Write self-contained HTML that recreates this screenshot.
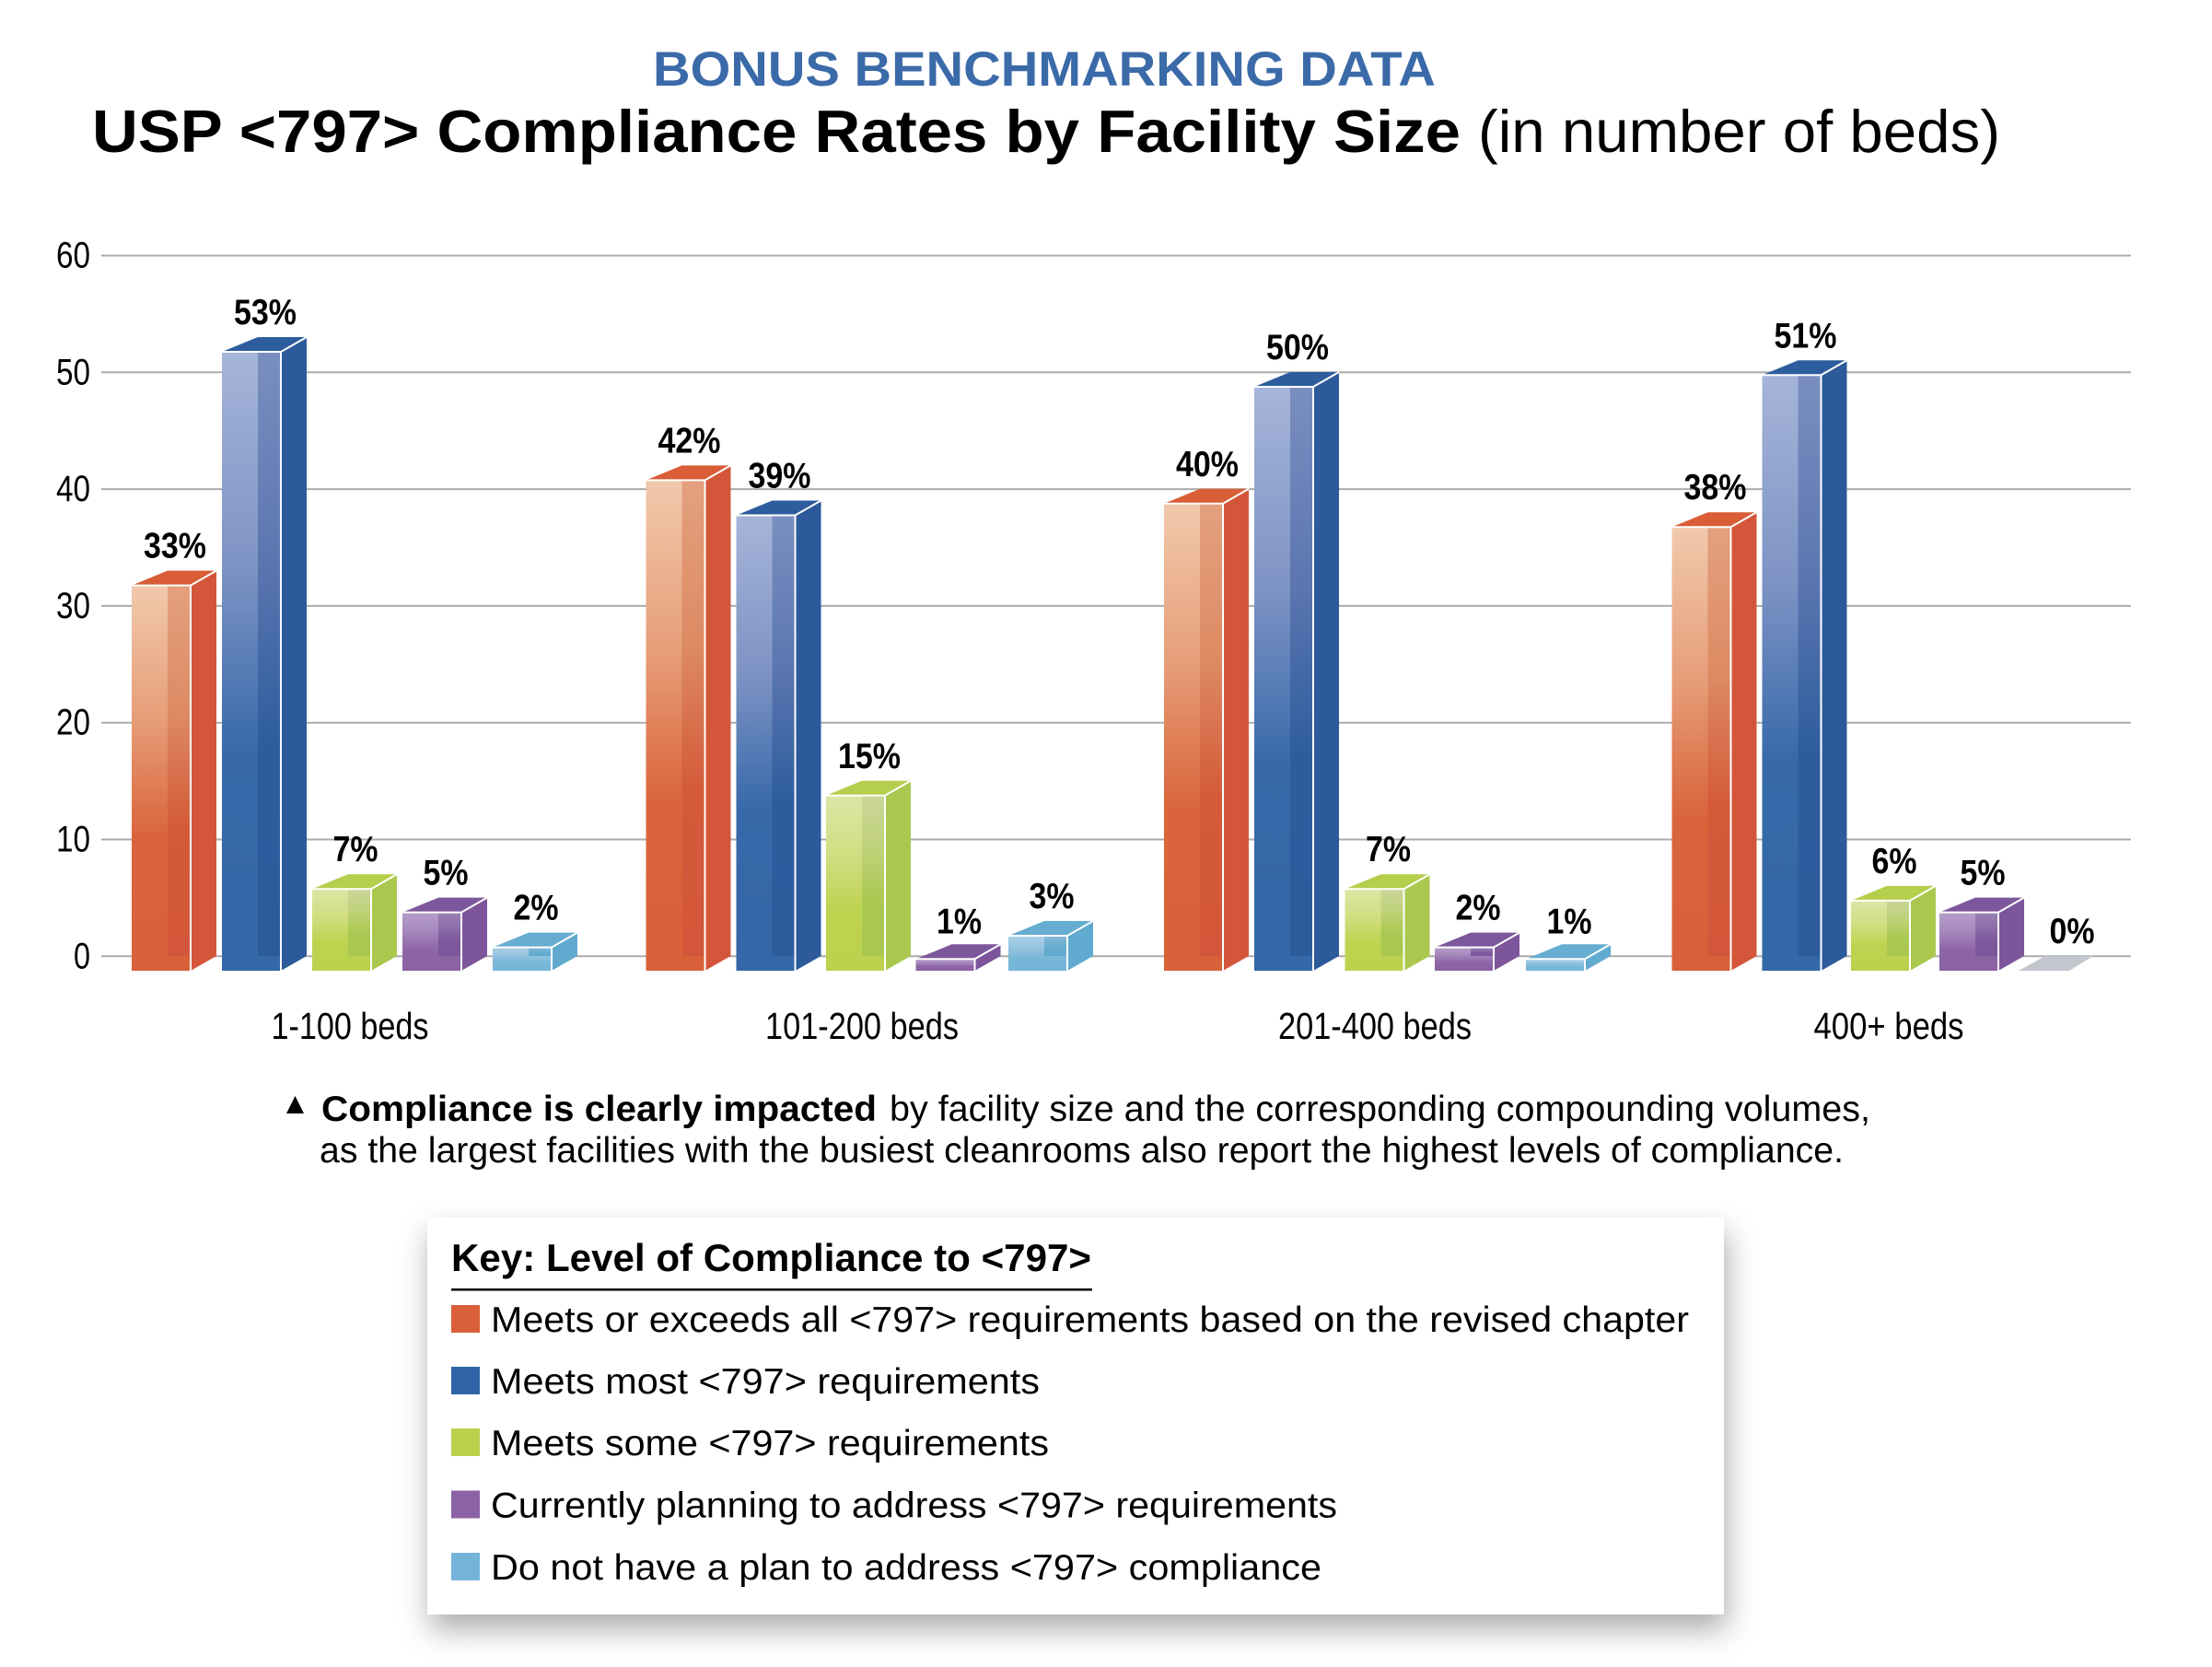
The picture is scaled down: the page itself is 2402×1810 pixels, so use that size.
<!DOCTYPE html>
<html><head><meta charset="utf-8"><style>html,body{margin:0;padding:0;background:#fff}svg{display:block}</style></head>
<body>
<svg width="2402" height="1810" viewBox="0 0 2402 1810" xmlns="http://www.w3.org/2000/svg" font-family="'Liberation Sans', Arial, sans-serif">
<defs>
<linearGradient id="oL" x1="0" y1="0" x2="0" y2="1"><stop offset="0" stop-color="#f1c9ad"/><stop offset="0.35" stop-color="#e69d77"/><stop offset="0.65" stop-color="#da653c"/><stop offset="1" stop-color="#d9613a"/></linearGradient>
<linearGradient id="oO" x1="0" y1="0" x2="0" y2="1"><stop offset="0" stop-color="#e4a07e"/><stop offset="0.35" stop-color="#dd8a62"/><stop offset="0.65" stop-color="#d45a3a"/><stop offset="1" stop-color="#d4563a"/></linearGradient>
<linearGradient id="bL" x1="0" y1="0" x2="0" y2="1"><stop offset="0" stop-color="#a6b5d9"/><stop offset="0.35" stop-color="#7d93c4"/><stop offset="0.65" stop-color="#3769a9"/><stop offset="1" stop-color="#3468a8"/></linearGradient>
<linearGradient id="bO" x1="0" y1="0" x2="0" y2="1"><stop offset="0" stop-color="#7a8fc0"/><stop offset="0.35" stop-color="#5b76b0"/><stop offset="0.65" stop-color="#2e5d9e"/><stop offset="1" stop-color="#2d5c9d"/></linearGradient>
<linearGradient id="gL" x1="0" y1="0" x2="0" y2="1"><stop offset="0" stop-color="#dde6a6"/><stop offset="0.35" stop-color="#d0de80"/><stop offset="0.65" stop-color="#bed350"/><stop offset="1" stop-color="#bcd14e"/></linearGradient>
<linearGradient id="gO" x1="0" y1="0" x2="0" y2="1"><stop offset="0" stop-color="#cad698"/><stop offset="0.35" stop-color="#bfd178"/><stop offset="0.65" stop-color="#abc952"/><stop offset="1" stop-color="#a9c850"/></linearGradient>
<linearGradient id="pL" x1="0" y1="0" x2="0" y2="1"><stop offset="0" stop-color="#b6a0ca"/><stop offset="0.35" stop-color="#a386bb"/><stop offset="0.65" stop-color="#8d64a5"/><stop offset="1" stop-color="#8b62a3"/></linearGradient>
<linearGradient id="pO" x1="0" y1="0" x2="0" y2="1"><stop offset="0" stop-color="#9a80b5"/><stop offset="0.35" stop-color="#8d6ea9"/><stop offset="0.65" stop-color="#7e589d"/><stop offset="1" stop-color="#7c569c"/></linearGradient>
<linearGradient id="cL" x1="0" y1="0" x2="0" y2="1"><stop offset="0" stop-color="#acd1e6"/><stop offset="0.35" stop-color="#94c3df"/><stop offset="0.65" stop-color="#78b7d8"/><stop offset="1" stop-color="#75b5d7"/></linearGradient>
<linearGradient id="cO" x1="0" y1="0" x2="0" y2="1"><stop offset="0" stop-color="#87bcd8"/><stop offset="0.35" stop-color="#72b1d3"/><stop offset="0.65" stop-color="#63abd0"/><stop offset="1" stop-color="#62aad0"/></linearGradient>
<filter id="sh" x="-10%" y="-20%" width="120%" height="150%"><feDropShadow dx="3" dy="16" stdDeviation="16" flood-color="#000" flood-opacity="0.33"/></filter>
<style>
.pl{font-weight:bold;font-size:39px;text-anchor:middle;fill:#000}
.yl{font-size:40px;text-anchor:end;fill:#000}
.cl{font-size:41px;text-anchor:middle;fill:#000}
.ed{stroke:#fff;stroke-width:2;fill:none}
</style>
</defs>
<rect width="2402" height="1810" fill="#fff"/>

<!-- Titles -->
<text x="709" y="93" font-size="53" font-weight="bold" fill="#3b6aa9" textLength="850" lengthAdjust="spacingAndGlyphs">BONUS BENCHMARKING DATA</text>
<text x="100" y="165" font-size="65" font-weight="bold" fill="#000" textLength="1486" lengthAdjust="spacingAndGlyphs">USP &lt;797&gt; Compliance Rates by Facility Size</text>
<text x="1605" y="165" font-size="65" fill="#000" textLength="567" lengthAdjust="spacingAndGlyphs">(in number of beds)</text>

<!-- Gridlines -->
<g stroke="#ababab" stroke-width="2">
<line x1="110" y1="277.5" x2="2314" y2="277.5"/>
<line x1="110" y1="404.3" x2="2314" y2="404.3"/>
<line x1="110" y1="531.1" x2="2314" y2="531.1"/>
<line x1="110" y1="657.9" x2="2314" y2="657.9"/>
<line x1="110" y1="784.7" x2="2314" y2="784.7"/>
<line x1="110" y1="911.5" x2="2314" y2="911.5"/>
<line x1="110" y1="1038.3" x2="2314" y2="1038.3"/>
</g>
<text class="yl" x="98" y="290.5" textLength="37" lengthAdjust="spacingAndGlyphs">60</text>
<text class="yl" x="98" y="417.3" textLength="37" lengthAdjust="spacingAndGlyphs">50</text>
<text class="yl" x="98" y="544.1" textLength="37" lengthAdjust="spacingAndGlyphs">40</text>
<text class="yl" x="98" y="670.9" textLength="37" lengthAdjust="spacingAndGlyphs">30</text>
<text class="yl" x="98" y="797.7" textLength="37" lengthAdjust="spacingAndGlyphs">20</text>
<text class="yl" x="98" y="924.5" textLength="37" lengthAdjust="spacingAndGlyphs">10</text>
<text class="yl" x="98" y="1051.3" textLength="18" lengthAdjust="spacingAndGlyphs">0</text>

<!-- ===== Group 1 ===== -->
<g transform="translate(143,0)">
<rect y="635.6" width="64" height="418.4" fill="url(#oL)"/><rect x="39" y="635.6" width="25" height="402.4" fill="url(#oO)"/>
<polygon points="64,635.6 92,619.6 92,1038 64,1054" fill="#d4563a"/><polygon points="0,635.6 39,619.6 92,619.6 64,635.6" fill="#d95d37"/>
<path class="ed" d="M0,635.6H64L92,619.6M64,635.6V1054"/>
<text class="pl" x="47" y="605.6" textLength="68" lengthAdjust="spacingAndGlyphs">33%</text></g>
<g transform="translate(241,0)">
<rect y="382" width="64" height="672" fill="url(#bL)"/><rect x="39" y="382" width="25" height="656" fill="url(#bO)"/>
<polygon points="64,382 92,366 92,1038 64,1054" fill="#2c5a9a"/><polygon points="0,382 39,366 92,366 64,382" fill="#2e5d9e"/>
<path class="ed" d="M0,382H64L92,366M64,382V1054"/>
<text class="pl" x="47" y="352" textLength="68" lengthAdjust="spacingAndGlyphs">53%</text></g>
<g transform="translate(339,0)">
<rect y="965.2" width="64" height="88.8" fill="url(#gL)"/><rect x="39" y="965.2" width="25" height="72.8" fill="url(#gO)"/>
<polygon points="64,965.2 92,949.2 92,1038 64,1054" fill="#aac84e"/><polygon points="0,965.2 39,949.2 92,949.2 64,965.2" fill="#b5ce4c"/>
<path class="ed" d="M0,965.2H64L92,949.2M64,965.2V1054"/>
<text class="pl" x="47" y="935.2" textLength="49" lengthAdjust="spacingAndGlyphs">7%</text></g>
<g transform="translate(437,0)">
<rect y="990.6" width="64" height="63.4" fill="url(#pL)"/><rect x="39" y="990.6" width="25" height="47.4" fill="url(#pO)"/>
<polygon points="64,990.6 92,974.6 92,1038 64,1054" fill="#7c559b"/><polygon points="0,990.6 39,974.6 92,974.6 64,990.6" fill="#7d579c"/>
<path class="ed" d="M0,990.6H64L92,974.6M64,990.6V1054"/>
<text class="pl" x="47" y="960.6" textLength="49" lengthAdjust="spacingAndGlyphs">5%</text></g>
<g transform="translate(535,0)">
<rect y="1028.6" width="64" height="25.4" fill="url(#cL)"/><rect x="39" y="1028.6" width="25" height="9.4" fill="url(#cO)"/>
<polygon points="64,1028.6 92,1012.6 92,1038 64,1054" fill="#61aacf"/><polygon points="0,1028.6 39,1012.6 92,1012.6 64,1028.6" fill="#66add1"/>
<path class="ed" d="M0,1028.6H64L92,1012.6M64,1028.6V1054"/>
<text class="pl" x="47" y="998.6" textLength="49" lengthAdjust="spacingAndGlyphs">2%</text></g>

<!-- ===== Group 2 ===== -->
<g transform="translate(701.5,0)">
<rect y="521.4" width="64" height="532.6" fill="url(#oL)"/><rect x="39" y="521.4" width="25" height="516.6" fill="url(#oO)"/>
<polygon points="64,521.4 92,505.4 92,1038 64,1054" fill="#d4563a"/><polygon points="0,521.4 39,505.4 92,505.4 64,521.4" fill="#d95d37"/>
<path class="ed" d="M0,521.4H64L92,505.4M64,521.4V1054"/>
<text class="pl" x="47" y="491.4" textLength="68" lengthAdjust="spacingAndGlyphs">42%</text></g>
<g transform="translate(799.5,0)">
<rect y="559.5" width="64" height="494.5" fill="url(#bL)"/><rect x="39" y="559.5" width="25" height="478.5" fill="url(#bO)"/>
<polygon points="64,559.5 92,543.5 92,1038 64,1054" fill="#2c5a9a"/><polygon points="0,559.5 39,543.5 92,543.5 64,559.5" fill="#2e5d9e"/>
<path class="ed" d="M0,559.5H64L92,543.5M64,559.5V1054"/>
<text class="pl" x="47" y="529.5" textLength="68" lengthAdjust="spacingAndGlyphs">39%</text></g>
<g transform="translate(897,0)">
<rect y="863.8" width="64" height="190.2" fill="url(#gL)"/><rect x="39" y="863.8" width="25" height="174.2" fill="url(#gO)"/>
<polygon points="64,863.8 92,847.8 92,1038 64,1054" fill="#aac84e"/><polygon points="0,863.8 39,847.8 92,847.8 64,863.8" fill="#b5ce4c"/>
<path class="ed" d="M0,863.8H64L92,847.8M64,863.8V1054"/>
<text class="pl" x="47" y="833.8" textLength="68" lengthAdjust="spacingAndGlyphs">15%</text></g>
<g transform="translate(994.5,0)">
<rect y="1041.3" width="64" height="12.7" fill="url(#pL)"/>
<polygon points="64,1041.3 92,1025.3 92,1038 64,1054" fill="#7c559b"/><polygon points="0,1041.3 39,1025.3 92,1025.3 64,1041.3" fill="#7d579c"/>
<path class="ed" d="M0,1041.3H64L92,1025.3M64,1041.3V1054"/>
<text class="pl" x="47" y="1013.3" textLength="49" lengthAdjust="spacingAndGlyphs">1%</text></g>
<g transform="translate(1095,0)">
<rect y="1016" width="64" height="38" fill="url(#cL)"/><rect x="39" y="1016" width="25" height="22" fill="url(#cO)"/>
<polygon points="64,1016 92,1000 92,1038 64,1054" fill="#61aacf"/><polygon points="0,1016 39,1000 92,1000 64,1016" fill="#66add1"/>
<path class="ed" d="M0,1016H64L92,1000M64,1016V1054"/>
<text class="pl" x="47" y="986" textLength="49" lengthAdjust="spacingAndGlyphs">3%</text></g>

<!-- ===== Group 3 ===== -->
<g transform="translate(1264,0)">
<rect y="546.8" width="64" height="507.2" fill="url(#oL)"/><rect x="39" y="546.8" width="25" height="491.2" fill="url(#oO)"/>
<polygon points="64,546.8 92,530.8 92,1038 64,1054" fill="#d4563a"/><polygon points="0,546.8 39,530.8 92,530.8 64,546.8" fill="#d95d37"/>
<path class="ed" d="M0,546.8H64L92,530.8M64,546.8V1054"/>
<text class="pl" x="47" y="516.8" textLength="68" lengthAdjust="spacingAndGlyphs">40%</text></g>
<g transform="translate(1362,0)">
<rect y="420" width="64" height="634" fill="url(#bL)"/><rect x="39" y="420" width="25" height="618" fill="url(#bO)"/>
<polygon points="64,420 92,404 92,1038 64,1054" fill="#2c5a9a"/><polygon points="0,420 39,404 92,404 64,420" fill="#2e5d9e"/>
<path class="ed" d="M0,420H64L92,404M64,420V1054"/>
<text class="pl" x="47" y="390" textLength="68" lengthAdjust="spacingAndGlyphs">50%</text></g>
<g transform="translate(1460.5,0)">
<rect y="965.2" width="64" height="88.8" fill="url(#gL)"/><rect x="39" y="965.2" width="25" height="72.8" fill="url(#gO)"/>
<polygon points="64,965.2 92,949.2 92,1038 64,1054" fill="#aac84e"/><polygon points="0,965.2 39,949.2 92,949.2 64,965.2" fill="#b5ce4c"/>
<path class="ed" d="M0,965.2H64L92,949.2M64,965.2V1054"/>
<text class="pl" x="47" y="935.2" textLength="49" lengthAdjust="spacingAndGlyphs">7%</text></g>
<g transform="translate(1558,0)">
<rect y="1028.6" width="64" height="25.4" fill="url(#pL)"/><rect x="39" y="1028.6" width="25" height="9.4" fill="url(#pO)"/>
<polygon points="64,1028.6 92,1012.6 92,1038 64,1054" fill="#7c559b"/><polygon points="0,1028.6 39,1012.6 92,1012.6 64,1028.6" fill="#7d579c"/>
<path class="ed" d="M0,1028.6H64L92,1012.6M64,1028.6V1054"/>
<text class="pl" x="47" y="998.6" textLength="49" lengthAdjust="spacingAndGlyphs">2%</text></g>
<g transform="translate(1657,0)">
<rect y="1041.3" width="64" height="12.7" fill="url(#cL)"/>
<polygon points="64,1041.3 92,1025.3 92,1038 64,1054" fill="#61aacf"/><polygon points="0,1041.3 39,1025.3 92,1025.3 64,1041.3" fill="#66add1"/>
<path class="ed" d="M0,1041.3H64L92,1025.3M64,1041.3V1054"/>
<text class="pl" x="47" y="1013.3" textLength="49" lengthAdjust="spacingAndGlyphs">1%</text></g>

<!-- ===== Group 4 ===== -->
<g transform="translate(1815.5,0)">
<rect y="572.2" width="64" height="481.8" fill="url(#oL)"/><rect x="39" y="572.2" width="25" height="465.8" fill="url(#oO)"/>
<polygon points="64,572.2 92,556.2 92,1038 64,1054" fill="#d4563a"/><polygon points="0,572.2 39,556.2 92,556.2 64,572.2" fill="#d95d37"/>
<path class="ed" d="M0,572.2H64L92,556.2M64,572.2V1054"/>
<text class="pl" x="47" y="542.2" textLength="68" lengthAdjust="spacingAndGlyphs">38%</text></g>
<g transform="translate(1913.5,0)">
<rect y="407.3" width="64" height="646.7" fill="url(#bL)"/><rect x="39" y="407.3" width="25" height="630.7" fill="url(#bO)"/>
<polygon points="64,407.3 92,391.3 92,1038 64,1054" fill="#2c5a9a"/><polygon points="0,407.3 39,391.3 92,391.3 64,407.3" fill="#2e5d9e"/>
<path class="ed" d="M0,407.3H64L92,391.3M64,407.3V1054"/>
<text class="pl" x="47" y="377.3" textLength="68" lengthAdjust="spacingAndGlyphs">51%</text></g>
<g transform="translate(2010,0)">
<rect y="977.9" width="64" height="76.1" fill="url(#gL)"/><rect x="39" y="977.9" width="25" height="60.1" fill="url(#gO)"/>
<polygon points="64,977.9 92,961.9 92,1038 64,1054" fill="#aac84e"/><polygon points="0,977.9 39,961.9 92,961.9 64,977.9" fill="#b5ce4c"/>
<path class="ed" d="M0,977.9H64L92,961.9M64,977.9V1054"/>
<text class="pl" x="47" y="947.9" textLength="49" lengthAdjust="spacingAndGlyphs">6%</text></g>
<g transform="translate(2106,0)">
<rect y="990.6" width="64" height="63.4" fill="url(#pL)"/><rect x="39" y="990.6" width="25" height="47.4" fill="url(#pO)"/>
<polygon points="64,990.6 92,974.6 92,1038 64,1054" fill="#7c559b"/><polygon points="0,990.6 39,974.6 92,974.6 64,990.6" fill="#7d579c"/>
<path class="ed" d="M0,990.6H64L92,974.6M64,990.6V1054"/>
<text class="pl" x="47" y="960.6" textLength="49" lengthAdjust="spacingAndGlyphs">5%</text></g>
<polygon points="2192,1054 2247,1054 2273,1038 2221,1038" fill="#c1c7cd"/>
<text class="pl" x="2250" y="1024" textLength="49" lengthAdjust="spacingAndGlyphs">0%</text>

<!-- Category labels -->
<text class="cl" x="380" y="1128" textLength="171" lengthAdjust="spacingAndGlyphs">1-100 beds</text>
<text class="cl" x="936" y="1128" textLength="210" lengthAdjust="spacingAndGlyphs">101-200 beds</text>
<text class="cl" x="1493" y="1128" textLength="210" lengthAdjust="spacingAndGlyphs">201-400 beds</text>
<text class="cl" x="2051" y="1128" textLength="163" lengthAdjust="spacingAndGlyphs">400+ beds</text>

<!-- Annotation -->
<polygon points="311,1209 330,1209 320.5,1190" fill="#000"/>
<text x="349" y="1217" font-size="39" font-weight="bold" fill="#000" textLength="603" lengthAdjust="spacingAndGlyphs">Compliance is clearly impacted</text>
<text x="966" y="1217" font-size="39" fill="#000" textLength="1065" lengthAdjust="spacingAndGlyphs">by facility size and the corresponding compounding volumes,</text>
<text x="347" y="1262" font-size="39" fill="#000" textLength="1655" lengthAdjust="spacingAndGlyphs">as the largest facilities with the busiest cleanrooms also report the highest levels of compliance.</text>

<!-- Legend -->
<rect x="464" y="1322" width="1408" height="431" fill="#fff" filter="url(#sh)"/>
<rect x="464" y="1322" width="1408" height="431" fill="#fff"/>
<text x="490" y="1380" font-size="42" font-weight="bold" fill="#000" textLength="695" lengthAdjust="spacingAndGlyphs">Key: Level of Compliance to &lt;797&gt;</text>
<rect x="490" y="1399" width="696" height="2.5" fill="#000"/>
<rect x="490" y="1417" width="31" height="30" fill="#d9603b"/>
<text x="533" y="1446" font-size="39" fill="#000" textLength="1301" lengthAdjust="spacingAndGlyphs">Meets or exceeds all &lt;797&gt; requirements based on the revised chapter</text>
<rect x="490" y="1484" width="31" height="30" fill="#2f65a6"/>
<text x="533" y="1513" font-size="39" fill="#000" textLength="596" lengthAdjust="spacingAndGlyphs">Meets most &lt;797&gt; requirements</text>
<rect x="490" y="1551" width="31" height="30" fill="#bcd04c"/>
<text x="533" y="1580" font-size="39" fill="#000" textLength="606" lengthAdjust="spacingAndGlyphs">Meets some &lt;797&gt; requirements</text>
<rect x="490" y="1618.5" width="31" height="30" fill="#8b62a3"/>
<text x="533" y="1647.5" font-size="39" fill="#000" textLength="919" lengthAdjust="spacingAndGlyphs">Currently planning to address &lt;797&gt; requirements</text>
<rect x="490" y="1686" width="31" height="30" fill="#74b4d8"/>
<text x="533" y="1715" font-size="39" fill="#000" textLength="902" lengthAdjust="spacingAndGlyphs">Do not have a plan to address &lt;797&gt; compliance</text>
</svg>
</body></html>
